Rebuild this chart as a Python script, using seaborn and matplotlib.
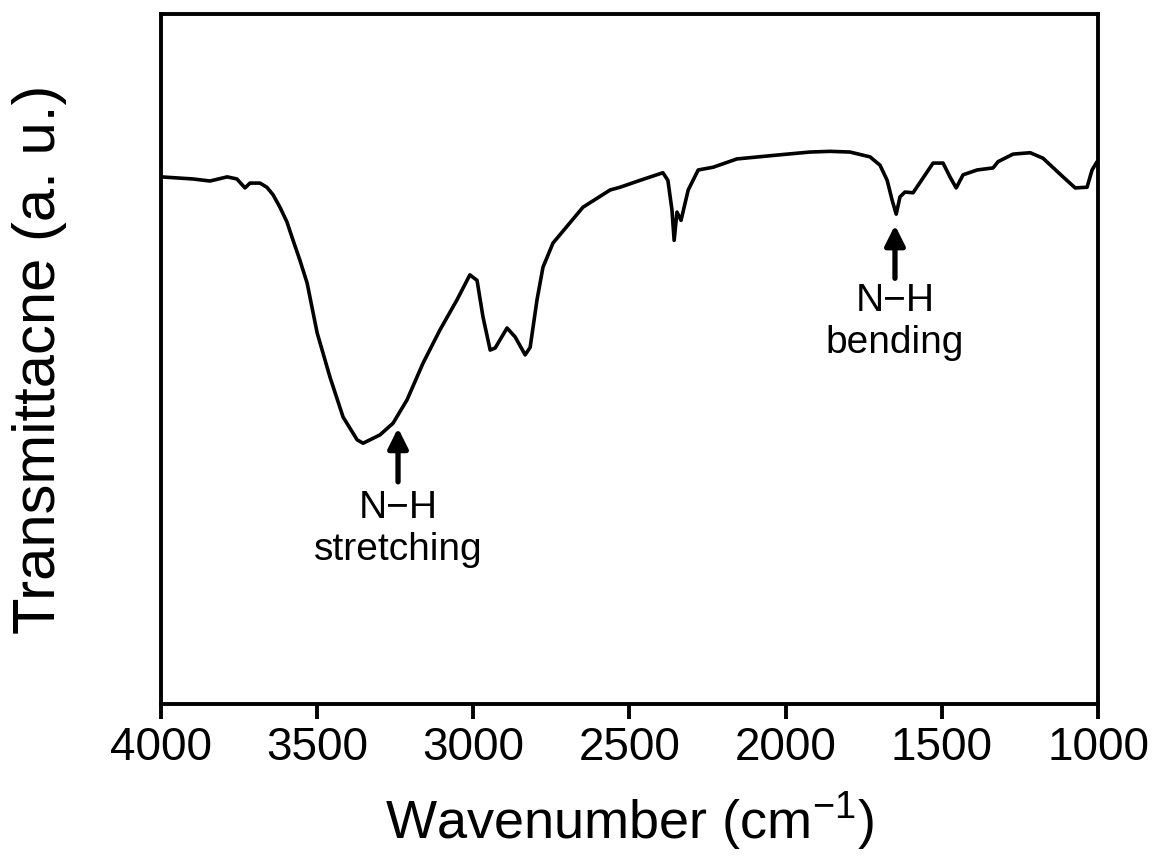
import matplotlib
matplotlib.use("Agg")
import matplotlib.pyplot as plt
import seaborn as sns
import pandas as pd

wavenumber = [4000, 3898, 3843, 3788, 3757, 3731, 3715, 3683, 3661, 3641, 3619, 3597, 3577,
              3555, 3532, 3500, 3459, 3417, 3372, 3353, 3299, 3257, 3212, 3161, 3107, 3052,
              3011, 2988, 2969, 2946, 2930, 2892, 2866, 2834, 2818, 2796, 2777, 2745, 2649,
              2562, 2530, 2466, 2393, 2377, 2364, 2357, 2348, 2335, 2312, 2280, 2232, 2156,
              2018, 1922, 1858, 1794, 1730, 1698, 1675, 1659, 1646, 1634, 1618, 1592, 1528,
              1496, 1474, 1454, 1432, 1387, 1336, 1320, 1272, 1217, 1176, 1112, 1073, 1035,
              1019, 1003]
transmittance = [76.4, 76.1, 75.8, 76.4, 76.1, 74.8, 75.5, 75.5, 74.9, 73.8, 72.0, 69.9, 67.2,
                 64.3, 61.0, 53.8, 47.4, 41.6, 38.3, 37.8, 39.0, 40.7, 44.1, 49.4, 54.2, 58.6,
                 62.2, 61.4, 56.1, 51.3, 51.6, 54.5, 53.2, 50.6, 51.7, 58.6, 63.3, 66.8, 72.0,
                 74.5, 74.9, 75.9, 77.0, 75.9, 71.6, 67.2, 71.3, 70.1, 74.5, 77.4, 77.8, 79.0,
                 79.6, 80.0, 80.1, 80.0, 79.3, 78.1, 75.9, 73.0, 71.0, 73.5, 74.2, 74.1, 78.4,
                 78.4, 76.4, 74.8, 76.7, 77.4, 77.7, 78.6, 79.7, 79.9, 79.1, 76.4, 74.8, 74.9,
                 77.4, 78.6]
xticks = [4000, 3500, 3000, 2500, 2000, 1500, 1000]

ann_labels = ["N\u2212H\nstretching", "N\u2212H\nbending"]
ann_x = [3241, 1650]
ann_tip = [40.0, 69.4]
ann_tail = [32.2, 61.7]
ann_text_y = [25.4, 55.4]

sns.set_theme(style="ticks")
plt.rcParams['font.family'] = ['Liberation Sans', 'DejaVu Sans']
plt.rcParams['text.color'] = 'black'
plt.rcParams['axes.labelcolor'] = 'black'

df = pd.DataFrame({"w": wavenumber, "t": transmittance})

fig = plt.figure(figsize=(11.53, 8.66), dpi=100)
ax = fig.add_axes([0.1396, 0.187, 0.8127, 0.7968])
sns.lineplot(data=df, x="w", y="t", color="black", linewidth=2.6, ax=ax, sort=False)

ax.set_xlim(4000, 1000)
ax.set_ylim(0, 100)
ax.set_xticks(xticks)
ax.set_xticklabels([str(v) for v in xticks], fontsize=33)
ax.set_yticks([])
ax.tick_params(axis='x', direction='out', length=11, width=2.8, pad=5, colors='black')
for s in ax.spines.values():
    s.set_linewidth(2.8)
    s.set_color('black')
    s.set_visible(True)

ax.set_xlabel("Wavenumber (cm$^{\\mathregular{-1}}$)", fontsize=39, labelpad=14, color='black')
ax.set_ylabel("Transmittacne (a. u.)", fontsize=43, labelpad=68, color='black')

for lab, x, tip, tail, ty in zip(ann_labels, ann_x, ann_tip, ann_tail, ann_text_y):
    ax.annotate("", xy=(x, tip), xytext=(x, tail),
                arrowprops=dict(arrowstyle="-|>,head_length=1.0,head_width=0.5",
                                color="black", lw=3.8, shrinkA=0, shrinkB=0))
    ax.text(x, ty, lab, ha="center", va="center", fontsize=28,
            linespacing=1.2, color="black")

fig.savefig("out.png", dpi=100)
